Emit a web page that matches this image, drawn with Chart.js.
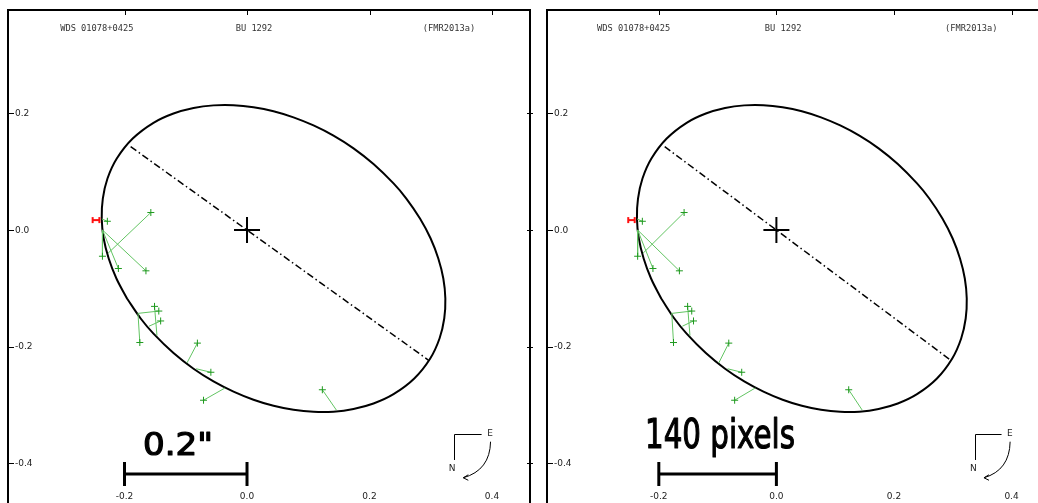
<!DOCTYPE html>
<html>
<head>
<meta charset="utf-8">
<script src="https://cdn.jsdelivr.net/npm/chart.js@4.4.0/dist/chart.umd.min.js"></script>
<style>
  html, body { margin: 0; padding: 0; background: #fff; overflow: hidden; width: 1038px; height: 503px; }
  canvas { position: absolute; top: 0; }
  #c1 { left: 0; }
  #c2 { left: 538px; }
</style>
</head>
<body>
<canvas id="c1" width="540" height="520"></canvas>
<canvas id="c2" width="520" height="520"></canvas>
<script>
// orbit outline (arcsec)
const orbitX = [-0.1959, -0.2132, -0.2258, -0.2340, -0.2372, -0.2354, -0.2278, -0.2126, -0.1866, -0.1527, -0.1200, -0.0873, -0.0547, -0.0220, 0.0106, 0.0433, 0.0759, 0.1086, 0.1412, 0.1739, 0.2065, 0.2392, 0.2601, 0.2824, 0.2998, 0.3123, 0.3205, 0.3238, 0.3220, 0.3143, 0.2991, 0.2731, 0.2392, 0.2065, 0.1739, 0.1412, 0.1086, 0.0759, 0.0433, 0.0106, -0.0220, -0.0547, -0.0873, -0.1200, -0.1527, -0.1736, -0.1959];
const orbitY = [-0.1175, -0.0832, -0.0489, -0.0146, 0.0197, 0.0540, 0.0883, 0.1226, 0.1569, 0.1839, 0.1998, 0.2093, 0.2138, 0.2141, 0.2106, 0.2038, 0.1933, 0.1794, 0.1619, 0.1401, 0.1132, 0.0799, 0.0540, 0.0197, -0.0146, -0.0489, -0.0832, -0.1175, -0.1518, -0.1861, -0.2204, -0.2547, -0.2816, -0.2976, -0.3070, -0.3116, -0.3118, -0.3084, -0.3015, -0.2911, -0.2772, -0.2597, -0.2379, -0.2110, -0.1777, -0.1518, -0.1175];

// line of apsides
const apsidesX = [-0.190, 0.296];
const apsidesY = [0.143, -0.223];

// measures (green) and their predicted places on the orbit
const obsX = [-0.228, -0.157, -0.236, -0.210, -0.165, -0.151, -0.144, -0.141, -0.175, -0.081, -0.059, -0.071, 0.123];
const obsY = [0.015, 0.030, -0.045, -0.066, -0.070, -0.131, -0.139, -0.156, -0.193, -0.194, -0.244, -0.292, -0.274];
const predX = [-0.237, -0.227, -0.236, -0.236, -0.236, -0.147, -0.178, -0.160, -0.178, -0.098, -0.083, -0.036, 0.146];
const predY = [0.019, -0.040, 0.000, 0.000, 0.000, -0.181, -0.143, -0.165, -0.143, -0.228, -0.238, -0.271, -0.309];

// red interferometric measure (error bar ends)
const redX = [-0.252, -0.241];
const redY = [0.017, 0.017];

// primary star
const starX = [0];
const starY = [0];

// scale bar
const barX = [-0.2, 0.0];
const barY = [-0.4185, -0.4185];

const xTickValues = [-0.2, 0.0, 0.2, 0.4];
const xTickLabels = ['-0.2', '0.0', '0.2', '0.4'];
const yTickValues = [0.2, 0.0, -0.2, -0.4];
const yTickLabels = ['0.2', '0.0', '-0.2', '-0.4'];

const headerTexts = ['WDS 01078+0425', 'BU 1292', '(FMR2013a)'];

function pts(xs, ys) {
  return xs.map((x, i) => ({ x: x, y: ys[i] }));
}

const ocData = [];
predX.forEach(function (px, i) {
  ocData.push({ x: px, y: predY[i] }, { x: obsX[i], y: obsY[i] }, { x: null, y: null });
});

const framePlugin = {
  id: 'frame',
  afterDraw(chart, args, opts) {
    const ctx = chart.ctx, a = chart.chartArea;
    const xs = chart.scales.x, ys = chart.scales.y;
    ctx.save();
    // frame
    ctx.strokeStyle = '#000';
    ctx.lineWidth = 2;
    ctx.strokeRect(a.left, a.top, a.right - a.left, a.bottom - a.top);
    // ticks
    ctx.lineWidth = 1;
    ctx.beginPath();
    xTickValues.forEach(function (v) {
      const p = Math.round(xs.getPixelForValue(v)) + 0.5;
      ctx.moveTo(p, a.top); ctx.lineTo(p, a.top + 5);
      ctx.moveTo(p, a.bottom); ctx.lineTo(p, a.bottom - 5);
    });
    yTickValues.forEach(function (v) {
      const p = Math.round(ys.getPixelForValue(v)) + 0.5;
      ctx.moveTo(a.left, p); ctx.lineTo(a.left + 6, p);
      ctx.moveTo(a.right - 3, p); ctx.lineTo(a.right + 3, p);
    });
    ctx.stroke();

    // tick labels, drawn inside the frame
    ctx.fillStyle = '#222';
    ctx.font = '9px "DejaVu Sans"';
    ctx.textBaseline = 'middle';
    ctx.textAlign = 'left';
    yTickValues.forEach(function (v, i) {
      ctx.fillText(yTickLabels[i], a.left + 7, ys.getPixelForValue(v) + 0.5);
    });
    ctx.textAlign = 'center';
    xTickValues.forEach(function (v, i) {
      ctx.fillText(xTickLabels[i], xs.getPixelForValue(v), a.bottom - 15);
    });

    // header
    ctx.font = '8.7px "DejaVu Sans Mono"';
    ctx.fillStyle = '#333';
    ctx.textAlign = 'left';
    ctx.fillText(headerTexts[0], xs.getPixelForValue(-0.305), a.top + 19);
    ctx.textAlign = 'center';
    ctx.fillText(headerTexts[1], xs.getPixelForValue(0.0114), a.top + 19);
    ctx.textAlign = 'left';
    ctx.fillText(headerTexts[2], xs.getPixelForValue(0.287), a.top + 19);

    // compass
    const cx0 = xs.getPixelForValue(0.3384), cx1 = xs.getPixelForValue(0.383);
    const cy0 = ys.getPixelForValue(-0.350), cy1 = ys.getPixelForValue(-0.3945);
    ctx.strokeStyle = '#000';
    ctx.lineWidth = 1;
    ctx.beginPath();
    ctx.moveTo(cx1, Math.round(cy0) + 0.5);
    ctx.lineTo(Math.round(cx0) + 0.5, Math.round(cy0) + 0.5);
    ctx.lineTo(Math.round(cx0) + 0.5, cy1);
    ctx.stroke();
    const ax0 = xs.getPixelForValue(0.3976), ay0 = ys.getPixelForValue(-0.3631);
    const ax1 = xs.getPixelForValue(0.3531), ay1 = ys.getPixelForValue(-0.4250);
    const acx = xs.getPixelForValue(0.3967), acy = ys.getPixelForValue(-0.4120);
    ctx.beginPath();
    ctx.moveTo(ax0, ay0);
    ctx.quadraticCurveTo(acx, acy, ax1, ay1);
    ctx.moveTo(ax1 + 5, ay1 - 3);
    ctx.lineTo(ax1, ay1);
    ctx.lineTo(ax1 + 5, ay1 + 2.5);
    ctx.stroke();
    ctx.font = '9px "DejaVu Sans"';
    ctx.fillStyle = '#222';
    ctx.textAlign = 'center';
    ctx.fillText('E', xs.getPixelForValue(0.397), cy0);
    ctx.fillText('N', xs.getPixelForValue(0.335), ys.getPixelForValue(-0.410));

    // hand written note above the scale bar
    ctx.font = opts.noteFont;
    ctx.fillStyle = '#000';
    ctx.strokeStyle = '#000';
    ctx.lineWidth = 1.2;
    ctx.lineJoin = 'round';
    ctx.textAlign = 'left';
    ctx.textBaseline = 'alphabetic';
    const w = ctx.measureText(opts.note).width;
    ctx.translate(opts.noteX, opts.noteY);
    ctx.scale(opts.noteW / w, 1);
    ctx.fillText(opts.note, 0, 0);
    ctx.strokeText(opts.note, 0, 0);
    ctx.restore();
  }
};

function makeChart(id, pad, note) {
  return new Chart(document.getElementById(id), {
    type: 'line',
    data: {
      datasets: [
        { data: pts(obsX, obsY), showLine: false, pointStyle: 'cross', pointRadius: 3.5,
          pointBorderColor: '#1f9a1f', pointBorderWidth: 1, order: 1 },
        { data: ocData, borderColor: '#62c462', borderWidth: 1, pointRadius: 0, spanGaps: false, order: 2 },
        { data: pts(orbitX, orbitY), borderColor: '#000', borderWidth: 2, tension: 0.35, pointRadius: 0, order: 3 },
        { data: pts(apsidesX, apsidesY), borderColor: '#000', borderWidth: 1.5, borderDash: [7, 3, 1.5, 3], pointRadius: 0, order: 4 },
        { data: pts(redX, redY), borderColor: '#ff1010', borderWidth: 2, pointStyle: 'line', rotation: 90,
          pointRadius: 3, pointBorderColor: '#ff1010', pointBorderWidth: 2, order: 0 },
        { data: pts(starX, starY), showLine: false, pointStyle: 'cross', pointRadius: 13,
          pointBorderColor: '#000', pointBorderWidth: 2, order: 0 },
        { data: pts(barX, barY), borderColor: '#000', borderWidth: 3, pointStyle: 'line', rotation: 90,
          pointRadius: 12, pointBorderColor: '#000', pointBorderWidth: 3, order: 0 }
      ]
    },
    options: {
      responsive: false,
      animation: false,
      events: [],
      layout: { padding: pad, autoPadding: false },
      scales: {
        x: { type: 'linear', min: -0.3902, max: 0.4620, display: false },
        y: { type: 'linear', min: -0.4837, max: 0.3774, display: false }
      },
      plugins: {
        legend: { display: false },
        tooltip: { enabled: false },
        frame: note
      }
    },
    plugins: [framePlugin]
  });
}

makeChart('c1', { left: 8, top: 10, right: 10, bottom: 8 },
  { note: '0.2"', noteFont: '32px "DejaVu Sans"', noteX: 143, noteY: 455, noteW: 70 });
makeChart('c2', { left: 9, top: 10, right: 10, bottom: 8 },
  { note: '140 pixels', noteFont: '40px "DejaVu Sans"', noteX: 107, noteY: 448, noteW: 150 });
</script>
</body>
</html>
